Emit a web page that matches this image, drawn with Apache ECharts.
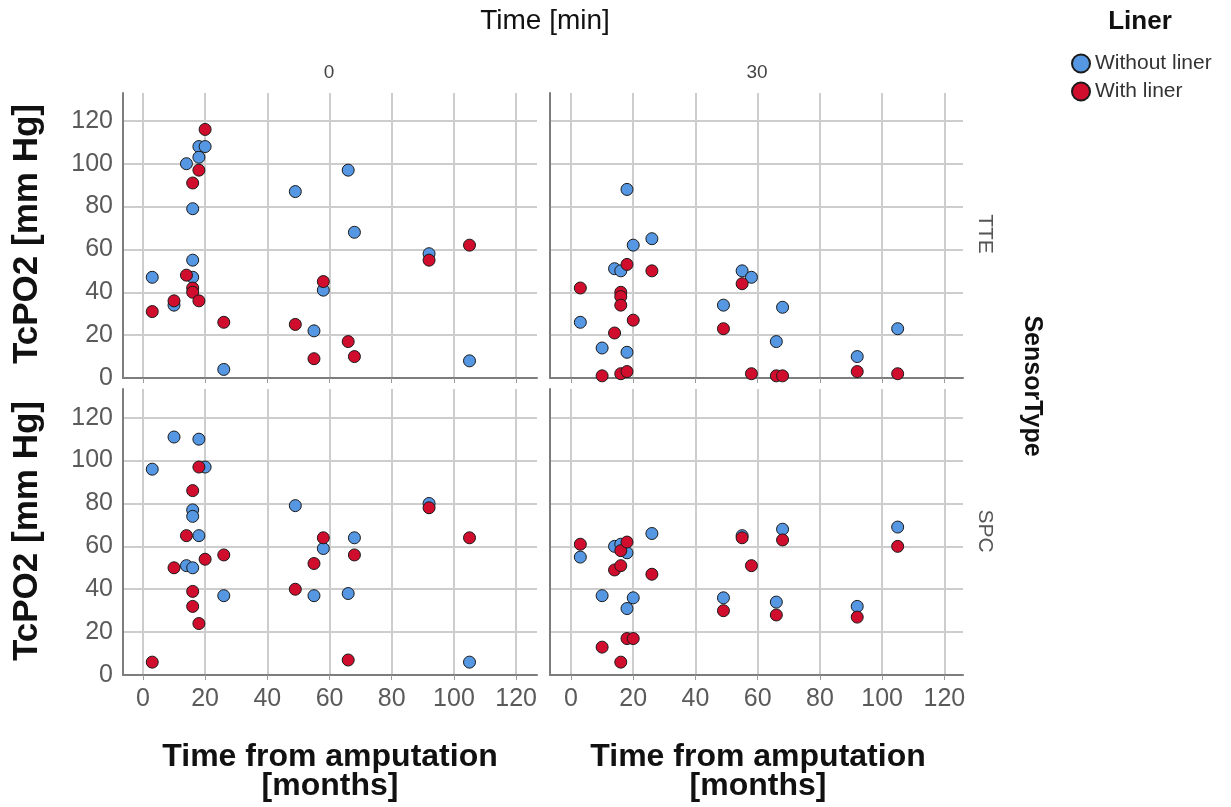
<!DOCTYPE html>
<html>
<head>
<meta charset="utf-8">
<title>TcPO2 by time from amputation</title>
<script src="https://cdn.jsdelivr.net/npm/echarts@6/dist/echarts.min.js"></script>
<style>
  html, body { margin: 0; padding: 0; background: #fff; }
  #chart { width: 1231px; height: 807px; }
</style>
</head>
<body>
<div id="chart"></div>
<script>
// Facet levels
const timeLevels = ['0', '30'];
const sensorTypes = ['TTE', 'SPC'];
const linerNames = ['Without liner', 'With liner'];
const xTicks = [0, 20, 40, 60, 80, 100, 120];
const yTicks = [0, 20, 40, 60, 80, 100, 120];

// [months since amputation, TcPO2 mm Hg]
const tteT0Without = [[3,47],[10,34],[14,100],[16,79],[16,55],[16,47],[18,108],[18,103],[20,108],[26,4],[49,87],[55,22],[58,41],[66,97],[68,68],[92,58],[105,8]];
const tteT0With = [[3,31],[10,36],[14,48],[16,91],[16,42],[16,40],[18,97],[18,36],[20,116],[26,26],[49,25],[55,9],[58,45],[66,17],[68,10],[92,55],[105,62]];
const tteT30Without = [[3,26],[10,14],[14,51],[16,50],[18,88],[18,12],[20,62],[26,65],[49,34],[55,50],[58,47],[66,17],[68,33],[92,10],[105,23]];
const tteT30With = [[3,42],[10,1],[14,21],[16,40],[16,38],[16,34],[16,2],[18,53],[18,3],[20,27],[26,50],[49,23],[55,44],[58,2],[66,1],[68,1],[92,3],[105,2]];
const spcT0Without = [[3,96],[10,111],[14,51],[16,77],[16,74],[16,50],[18,110],[18,65],[20,97],[26,37],[49,79],[55,37],[58,59],[66,38],[68,64],[92,80],[105,6]];
const spcT0With = [[3,6],[10,50],[14,65],[16,86],[16,39],[16,32],[18,97],[18,24],[20,54],[26,56],[49,40],[55,52],[58,64],[66,7],[68,56],[92,78],[105,64]];
const spcT30Without = [[3,55],[10,37],[14,60],[16,61],[18,57],[18,31],[20,36],[26,66],[49,36],[55,65],[66,34],[68,68],[92,32],[105,69]];
const spcT30With = [[3,61],[10,13],[14,49],[16,58],[16,51],[16,6],[18,62],[18,17],[20,17],[26,47],[49,30],[55,64],[58,51],[66,28],[68,63],[92,27],[105,60]];

const FONT = 'Liberation Sans, Arial, sans-serif';
const BLUE = '#5597e3';
const RED = '#d00d2d';

// panels: row = sensor type, column = time
const panels = [
  { left: 123, top: 93, width: 414, height: 285, xMin: -6.4, xMax: 126.7, yMax: 133, data: [tteT0Without, tteT0With], xLabels: false, yLabels: true },
  { left: 550, top: 93, width: 413, height: 285, xMin: -6.75, xMax: 126.0, yMax: 133, data: [tteT30Without, tteT30With], xLabels: false, yLabels: false },
  { left: 123, top: 389, width: 414, height: 286, xMin: -6.4, xMax: 126.7, yMax: 133.4, data: [spcT0Without, spcT0With], xLabels: true, yLabels: true },
  { left: 550, top: 389, width: 413, height: 286, xMin: -6.75, xMax: 126.0, yMax: 133.4, data: [spcT30Without, spcT30With], xLabels: true, yLabels: false }
];

const grid = [], xAxis = [], yAxis = [], series = [];
panels.forEach((p, i) => {
  grid.push({ left: p.left, top: p.top, width: p.width, height: p.height });
  xAxis.push({
    type: 'value', gridIndex: i, min: p.xMin, max: p.xMax,
    axisLine: { show: true, onZero: false, lineStyle: { color: '#7d7d7d', width: 2 } },
    axisTick: { show: true, customValues: xTicks, length: 5, lineStyle: { color: '#9a9a9a', width: 1 } },
    axisLabel: { show: p.xLabels, customValues: xTicks, fontSize: 25, color: '#5a5a5a', fontFamily: FONT, margin: 12 },
    splitLine: { show: true, lineStyle: { color: '#cdcdcd', width: 2 } }
  });
  yAxis.push({
    type: 'value', gridIndex: i, min: 0, max: p.yMax,
    axisLine: { show: true, onZero: false, lineStyle: { color: '#7d7d7d', width: 2 } },
    axisTick: { show: false, customValues: yTicks },
    axisLabel: { show: p.yLabels, customValues: yTicks, fontSize: 25, color: '#5a5a5a', fontFamily: FONT, margin: 10 },
    splitLine: { show: true, lineStyle: { color: '#cdcdcd', width: 2 } }
  });
  p.data.forEach((d, k) => {
    series.push({
      type: 'scatter', name: linerNames[k], xAxisIndex: i, yAxisIndex: i,
      data: d, symbol: 'circle', symbolSize: 12, clip: false, z: 2 + k,
      itemStyle: { color: k === 0 ? BLUE : RED, borderColor: '#1a1a1a', borderWidth: 1, opacity: 1 },
      emphasis: { disabled: true }
    });
  });
});

const titleText = (text, x, y, size, opts = {}) => ({
  type: 'text', x, y, rotation: opts.rotation || 0, silent: true,
  style: {
    text, fill: opts.color || '#111', fontSize: size, fontFamily: FONT,
    fontWeight: opts.bold ? 'bold' : 'normal', align: 'center', verticalAlign: 'middle'
  }
});

const graphic = [
  titleText('Time [min]', 545, 21, 28),
  titleText(timeLevels[0], 329, 73, 19, { color: '#444' }),
  titleText(timeLevels[1], 757, 73, 19, { color: '#444' }),
  titleText('Liner', 1140, 22, 26, { bold: true }),
  titleText(sensorTypes[0], 985, 234, 21, { color: '#555', rotation: -Math.PI / 2 }),
  titleText(sensorTypes[1], 985, 531, 21, { color: '#555', rotation: -Math.PI / 2 }),
  titleText('SensorType', 1032, 386, 25, { bold: true, rotation: -Math.PI / 2 }),
  titleText('TcPO2 [mm Hg]', 27, 234, 35, { bold: true, rotation: Math.PI / 2 }),
  titleText('TcPO2 [mm Hg]', 27, 531, 35, { bold: true, rotation: Math.PI / 2 }),
  titleText('Time from amputation', 330, 757, 32, { bold: true }),
  titleText('[months]', 330, 786, 32, { bold: true }),
  titleText('Time from amputation', 758, 757, 32, { bold: true }),
  titleText('[months]', 758, 786, 32, { bold: true })
];

const chart = echarts.init(document.getElementById('chart'), null, { renderer: 'canvas' });
chart.setOption({
  animation: false,
  backgroundColor: '#ffffff',
  grid, xAxis, yAxis, series, graphic,
  legend: {
    data: linerNames, orient: 'vertical', left: 1066, top: 48,
    icon: 'circle', itemWidth: 18, itemHeight: 18, itemGap: 7,
    selectedMode: false,
    textStyle: { fontSize: 21, color: '#333', fontFamily: FONT }
  }
});
</script>
</body>
</html>
